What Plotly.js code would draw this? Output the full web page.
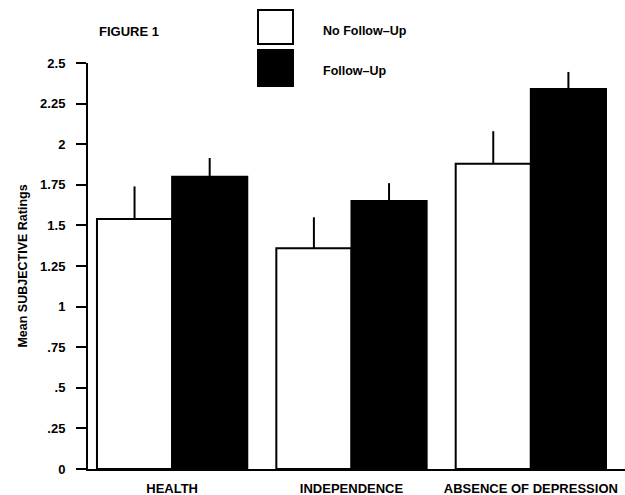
<!DOCTYPE html>
<html>
<head>
<meta charset="utf-8">
<script src="https://cdn.plot.ly/plotly-3.0.1.min.js"></script>
<style>html,body{margin:0;padding:0;background:#fff;}#chart{width:625px;height:495px;}</style>
</head>
<body>
<div id="chart"></div>
<script>
var categories = ["HEALTH", "INDEPENDENCE", "ABSENCE OF DEPRESSION"];
var noFollowUp = [1.54, 1.36, 1.88];
var noFollowUpErr = [0.20, 0.19, 0.20];
var followUp = [1.80, 1.65, 2.34];
var followUpErr = [0.115, 0.11, 0.105];
var yTickVals = [0, 0.25, 0.5, 0.75, 1, 1.25, 1.5, 1.75, 2, 2.25, 2.5];
var yTickText = ["0", ".25", ".5", ".75", "1", "1.25", "1.5", "1.75", "2", "2.25", "2.5"];
var seriesNames = ["No Follow\u2013Up", "Follow\u2013Up"];

var L = 88, R = 625, T = 63, B = 469;
function px(x) { return (x - L) / (R - L); }
function py(y) { return (B - y) / (B - T); }
var FONT = "Liberation Sans, Arial, Helvetica, sans-serif";
function bold(sz) { return {family: FONT, size: sz, color: "#000", weight: "bold"}; }

var traces = [
  {
    type: "bar", x: categories, y: noFollowUp, name: seriesNames[0],
    marker: {color: "#fff", line: {color: "#000", width: 2}},
    error_y: {type: "data", symmetric: false, array: noFollowUpErr, arrayminus: [0,0,0], width: 0, thickness: 2, color: "#000"}
  },
  {
    type: "bar", x: categories, y: followUp, name: seriesNames[1],
    marker: {color: "#000", line: {color: "#000", width: 2}},
    error_y: {type: "data", symmetric: false, array: followUpErr, arrayminus: [0,0,0], width: 0, thickness: 2, color: "#000"}
  }
];

var layout = {
  width: 625, height: 495,
  margin: {l: L, r: 625 - R, t: T, b: 495 - B},
  paper_bgcolor: "#fff", plot_bgcolor: "#fff",
  showlegend: false,
  barmode: "group", bargap: 0.162, bargroupgap: 0,
  xaxis: {
    type: "category", range: [-0.469, 2.525],
    showline: true, linecolor: "#000", linewidth: 2,
    ticks: "", showgrid: false, zeroline: false,
    tickfont: bold(13), ticklabelstandoff: 6, automargin: false
  },
  yaxis: {
    range: [0, 2.5], tickvals: yTickVals, ticktext: yTickText,
    showline: true, linecolor: "#000", linewidth: 2,
    ticks: "outside", ticklen: 10, tickwidth: 2, tickcolor: "#000",
    showgrid: false, zeroline: false,
    tickfont: bold(13), ticklabelstandoff: 8, automargin: false,
    title: {text: "Mean SUBJECTIVE Ratings", font: bold(12.5), standoff: 10}
  },
  shapes: [
    {type: "rect", xref: "paper", yref: "paper", x0: px(258), x1: px(293), y0: py(44), y1: py(10),
     fillcolor: "#fff", line: {color: "#000", width: 2}},
    {type: "rect", xref: "paper", yref: "paper", x0: px(258), x1: px(293), y0: py(86), y1: py(50),
     fillcolor: "#000", line: {color: "#000", width: 2}}
  ],
  annotations: [
    {text: "FIGURE 1", xref: "paper", yref: "paper", x: px(97), y: py(32), xanchor: "left", yanchor: "middle", showarrow: false, font: bold(13)},
    {text: seriesNames[0], xref: "paper", yref: "paper", x: px(321), y: py(31), xanchor: "left", yanchor: "middle", showarrow: false, font: bold(12.5)},
    {text: seriesNames[1], xref: "paper", yref: "paper", x: px(321), y: py(71), xanchor: "left", yanchor: "middle", showarrow: false, font: bold(12.5)}
  ]
};

Plotly.newPlot("chart", traces, layout, {displayModeBar: false, staticPlot: true});
</script>
</body>
</html>
